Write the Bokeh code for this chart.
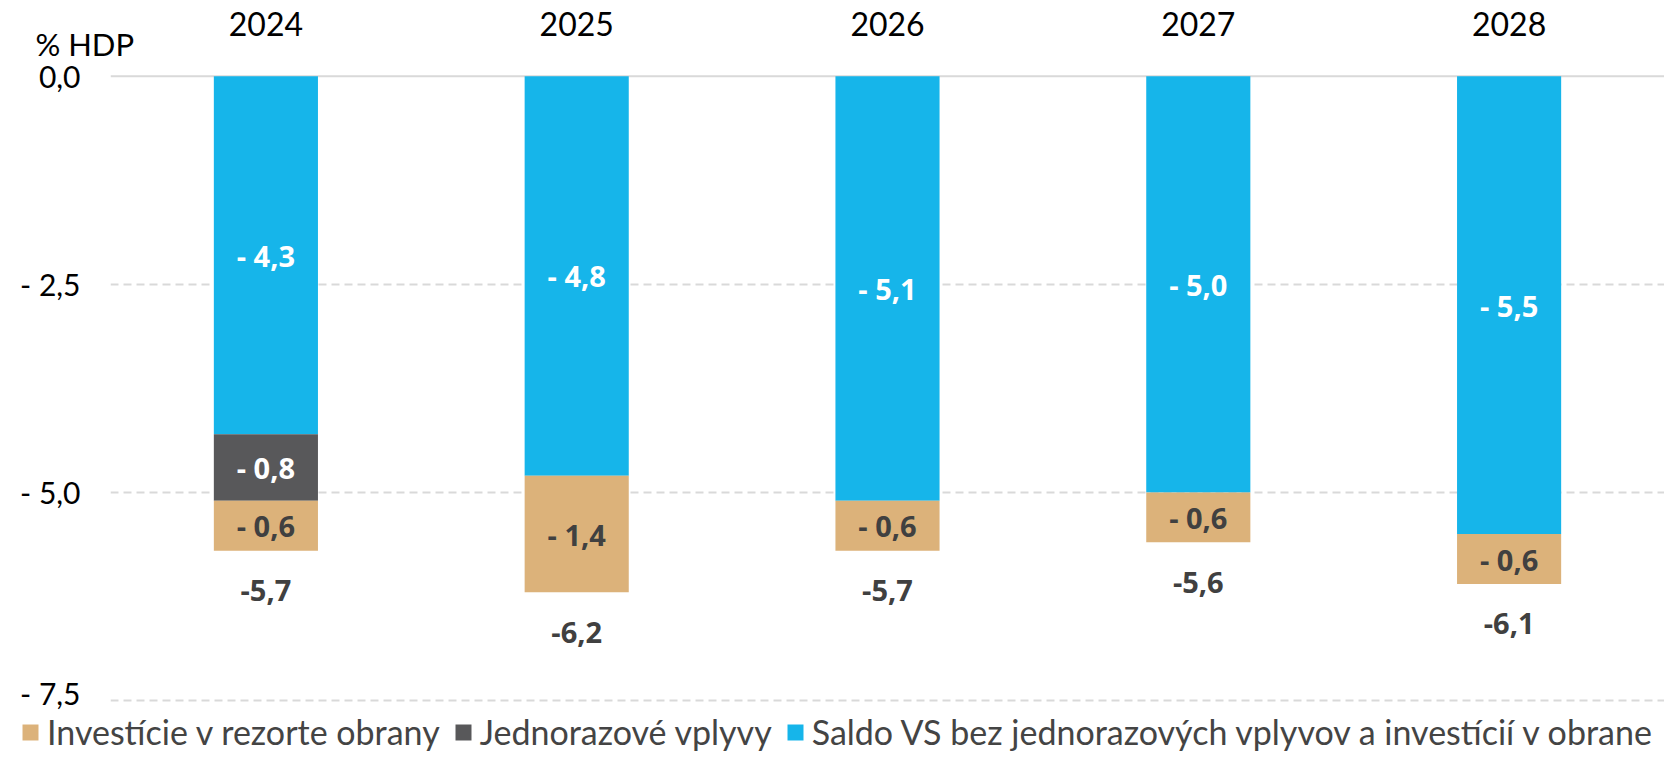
from bokeh.plotting import figure
from bokeh.layouts import column
from bokeh.models import (FactorRange, Range1d, ColumnDataSource, FixedTicker, Span,
                          Legend, LegendItem)
from bokeh.core.properties import value
from bokeh.embed import file_html
from bokeh.resources import INLINE

years = ["2024", "2025", "2026", "2027", "2028"]
saldo = [-4.3, -4.8, -5.1, -5.0, -5.5]
jednorazove = [-0.8, 0.0, 0.0, 0.0, 0.0]
investicie = [-0.6, -1.4, -0.6, -0.6, -0.6]
totals = [-5.7, -6.2, -5.7, -5.6, -6.1]
y_ticks = [0.0, -2.5, -5.0, -7.5]
y_tick_labels = ["0,0", "- 2,5", "- 5,0", "- 7,5"]
series_names = ["Investície v rezorte obrany", "Jednorazové vplyvy",
                "Saldo VS bez jednorazových vplyvov a investícií v obrane"]
unit_label = "% HDP"

C_BLUE = "#16B5EA"
C_GREY = "#58585A"
C_TAN = "#DCB27A"
C_DARK = "#404040"


def fmt_seg(v):
    return "- " + ("%.1f" % abs(v)).replace(".", ",")


def fmt_tot(v):
    return ("%.1f" % v).replace(".", ",")


src = ColumnDataSource(dict(years=years, saldo=saldo, jedn=jednorazove, inv=investicie))

p = figure(x_range=FactorRange(*years), y_range=Range1d(-7.62, 0.393),
           width=1664, height=710, output_backend="svg", toolbar_location=None,
           x_axis_location="above", min_border_left=110, min_border_right=0,
           min_border_top=43, min_border_bottom=0)
p.outline_line_color = None
p.background_fill_color = "white"
p.border_fill_color = "white"

renders = p.vbar_stack(["saldo", "jedn", "inv"], x="years", width=0.335, source=src,
                       color=[C_BLUE, C_GREY, C_TAN], line_color=None)

# zero line
p.add_layout(Span(location=0, dimension="width", line_color="#d9d9d9", line_width=2, level="underlay"))

# grid
p.xgrid.visible = False
p.ygrid.ticker = FixedTicker(ticks=[t for t in y_ticks if t != 0])
p.ygrid.grid_line_color = "#d9d9d9"
p.ygrid.grid_line_width = 2
p.ygrid.grid_line_dash = "8 5"

# y axis
p.yaxis.ticker = FixedTicker(ticks=y_ticks)
p.yaxis.major_label_overrides = {t: l for t, l in zip(y_ticks, y_tick_labels)}
p.yaxis.axis_line_color = None
p.yaxis.major_tick_line_color = None
p.yaxis.minor_tick_line_color = None
p.yaxis.major_tick_in = 0
p.yaxis.major_tick_out = 0
p.yaxis.major_label_standoff = 30
p.yaxis.major_label_text_font = "Lato"
p.yaxis.major_label_text_font_size = "30px"
p.yaxis.major_label_text_color = "black"
p.yaxis.axis_label = unit_label
p.yaxis.axis_label_orientation = "horizontal"
p.yaxis.axis_label_align = "end"
p.yaxis.axis_label_standoff = -117
p.yaxis.axis_label_text_font = "Lato"
p.yaxis.axis_label_text_font_size = "31px"
p.yaxis.axis_label_text_font_style = "normal"
p.yaxis.axis_label_text_color = "black"

# x axis (top)
p.xaxis.axis_line_color = None
p.xaxis.major_tick_line_color = None
p.xaxis.minor_tick_line_color = None
p.xaxis.major_tick_in = 0
p.xaxis.major_tick_out = 0
p.xaxis.major_label_standoff = 8
p.xaxis.major_label_text_font = "Lato"
p.xaxis.major_label_text_font_size = "32px"
p.xaxis.major_label_text_color = "black"

# segment labels
lab_x, lab_y, lab_t, lab_c = [], [], [], []
for i, yr in enumerate(years):
    base = 0.0
    for v, col in ((saldo[i], "white"), (jednorazove[i], "white"), (investicie[i], C_DARK)):
        if v != 0:
            lab_x.append(yr)
            lab_y.append(base + v / 2.0)
            lab_t.append(fmt_seg(v))
            lab_c.append(col)
        base += v
p.text(x=lab_x, y=lab_y, text=lab_t, text_color=lab_c, text_font=value("Open Sans"),
       text_font_style="bold", text_font_size="29px", text_align="center",
       text_baseline="middle")

# totals
p.text(x=years, y=totals, text=[fmt_tot(v) for v in totals], text_color=C_DARK,
       text_font=value("Open Sans"), text_font_style="bold", text_font_size="29px",
       text_align="center", text_baseline="middle", y_offset=40)

# legend strip (separate figure so the legend can start left of the plot frame);
# its proxy bars use the same data but lie outside that strip's visible y-range
lf = figure(width=1664, height=42, output_backend="svg", toolbar_location=None,
            x_range=FactorRange(*years), y_range=Range1d(100, 101),
            x_axis_type=None, y_axis_type=None, min_border=0)
if "frame_align" in lf.properties():
    lf.frame_align = False
    p.frame_align = False
lf.outline_line_color = None
lf.xgrid.visible = False
lf.ygrid.visible = False
proxy_inv = lf.vbar(x="years", top="inv", width=0.3, source=src, color=C_TAN, line_color=None)
proxy_jed = lf.vbar(x="years", top="jedn", width=0.3, source=src, color=C_GREY, line_color=None)
proxy_sal = lf.vbar(x="years", top="saldo", width=0.3, source=src, color=C_BLUE, line_color=None)
legend = Legend(items=[LegendItem(label=series_names[0], renderers=[proxy_inv]),
                       LegendItem(label=series_names[1], renderers=[proxy_jed]),
                       LegendItem(label=series_names[2], renderers=[proxy_sal])],
                orientation="horizontal", location=(20, 0),
                label_text_font="Lato", label_text_font_size="34px",
                glyph_width=20, glyph_height=20, label_standoff=7, spacing=13,
                padding=0, margin=0, border_line_color=None, background_fill_alpha=0)
lf.add_layout(legend, "center")

layout = column(p, lf, spacing=0)
open("out.html", "w").write(file_html(layout, INLINE))
